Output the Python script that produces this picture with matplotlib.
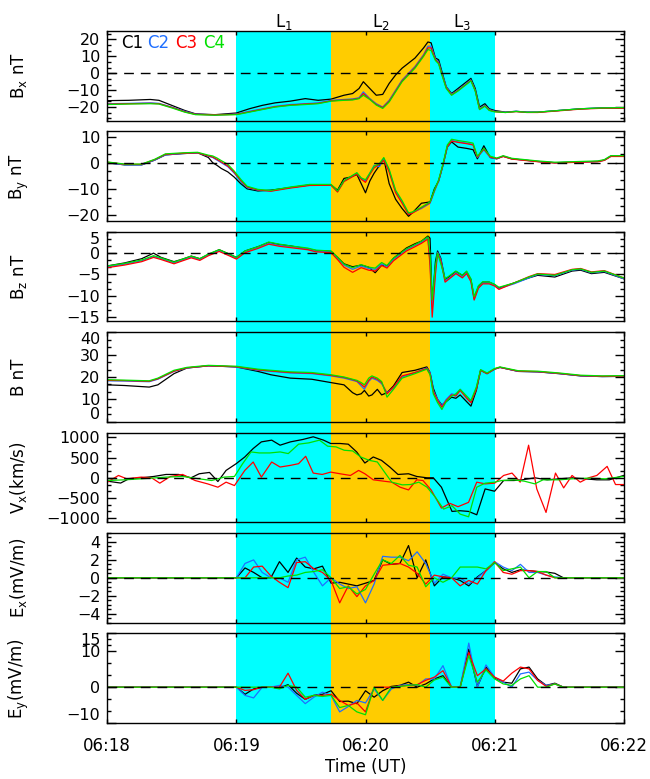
import matplotlib
matplotlib.use('Agg')
import matplotlib.pyplot as plt
import matplotlib.transforms as mtransforms
from matplotlib.patches import Rectangle
from matplotlib.ticker import AutoMinorLocator, FixedLocator

plt.rcParams['font.family'] = ['DejaVu Sans']
plt.rcParams['mathtext.default'] = 'regular'
plt.rcParams['font.size'] = 12

# Time axis, seconds after 06:18:00 UT.
time_ticks = [0, 60, 120, 180, 240]
time_labels = ['06:18', '06:19', '06:20', '06:21', '06:22']

sc_names = ['C1', 'C2', 'C3', 'C4']
sc_colors = ['black', '#1f6fff', 'red', '#00e000']

# Shaded intervals L1, L2, L3.
interval_edges = [60, 104, 150, 180]
interval_colors = ['#00ffff', '#ffcc00', '#00ffff']
interval_names = [r'L$_1$', r'L$_2$', r'L$_3$']

# Bx (nT)
bx_t = [0, 10, 20, 24, 30, 36, 41, 50, 60, 66, 72, 78, 85, 92, 98, 104, 110, 114, 117, 119,
        122, 125, 128, 131, 134, 137, 140, 143, 147, 149, 150.5, 152.5, 154, 155.5, 157.5, 160,
        163, 166, 169, 171, 173, 175.5, 177.5, 180, 185, 190, 195, 200, 210, 220, 230, 240]
bx_c1 = [-16.2, -16, -15.5, -16, -19, -22, -24, -24.5, -23.5, -21, -19, -17.5, -16.5, -15, -16,
         -15.3, -13, -12, -9, -5, -9, -13, -12.5, -6, -1, 3, 6, 9, 15, 18.5, 18, 9, 8, 1, -8, -12,
         -9, -6, -3, -9, -20, -18, -21, -22, -23, -22.5, -23, -23, -22, -21, -20.5, -20.5]
bx_c2 = [-18, -17.8, -17.5, -17.8, -20, -22.5, -24.2, -24.6, -24.2, -22.5, -21, -19.5, -18.5, -18,
         -17.5, -16, -15.5, -15.2, -14.5, -11, -15, -18, -20, -16, -10, -4, 0, 4, 11, 16, 16, 8.5,
         6.5, 0, -8, -12.5, -10, -7, -4, -10, -21, -19, -21.5, -22.5, -23, -22.5, -23, -23, -22,
         -21, -20.5, -20.5]
bx_c3 = [-18.3, -18, -17.8, -18, -20.2, -22.8, -24.3, -24.6, -24.3, -22.8, -21.3, -19.8, -18.8,
         -18.2, -17.8, -16.3, -15.8, -15.5, -14.8, -12, -15.3, -18.5, -20.3, -16.5, -10.5, -4.5,
         -0.5, 3.5, 10.5, 15, 15, 8, 6, -0.5, -8.5, -12.8, -10.3, -7.3, -4.3, -10.3, -21.3, -19.3,
         -21.8, -22.7, -23.2, -22.7, -23.2, -23.2, -22.2, -21.2, -20.7, -20.7]
bx_c4 = [-18.5, -18.2, -18, -18.2, -20.5, -23, -24.5, -24.8, -24.5, -23, -21.5, -20, -19, -18.5,
         -18, -16.5, -16, -15.8, -15, -13, -15.5, -18.8, -20.8, -17, -11, -5, -1, 3, 10, 14, 13.5,
         7.5, 5.5, -1, -9, -13, -10.5, -7.5, -4.5, -10.5, -21.5, -19.5, -22, -22.8, -23.2, -22.6,
         -23.1, -23, -22, -21, -20.5, -20.3]

# By (nT)
by_t = [0, 8, 16, 22, 27, 35, 42, 47, 49, 51, 53, 56, 59, 62, 65, 70, 76, 85, 94, 104, 107, 110,
        113, 116, 118, 120, 122, 124, 126.5, 128.5, 131, 134, 137, 140, 142, 146, 150, 152, 154,
        156, 158, 160, 163, 167, 170, 172, 175, 178, 181, 184, 188, 200, 208, 220, 228, 231, 234,
        240]
by_c1 = [0, -0.8, -0.8, 1, 3, 3.5, 3.8, 2, 0, -1, -2.2, -3.5, -5.5, -8, -10, -10.8, -10.5, -9.5,
         -8.5, -8.5, -10.5, -6, -5.5, -4.5, -8, -11.5, -7, -4, -1, 1.5, -8, -14, -17.5, -20.5, -19,
         -15.5, -15, -10, -7, -1, 6, 8, 6, 5.5, 5, 1.5, 6.5, 2, 1.5, 2.5, 1.5, 0.5, 0, 0.3, 0.5, 1,
         2.5, 2.5]
by_c2 = [0, -0.8, -0.8, 1, 3, 3.5, 3.8, 2.5, 2, 1, 0, -1.5, -4, -7, -9.5, -10.5, -10.8, -9.5, -8.5,
         -8.5, -11, -7, -5.5, -4, -6, -7, -4, -1, -1.5, 1.5, -3, -11, -15, -19.5, -19, -17.5, -15.5,
         -11, -7, -1, 6, 8.5, 8, 7.5, 7, 2, 5, 2, 1.5, 2.5, 1.5, 0.5, 0, 0.3, 0.5, 1, 2.5, 2.5]
by_c3 = [0.2, -0.6, -0.6, 1.2, 3.2, 3.6, 3.8, 2.6, 2.2, 1.3, 0.3, -1.2, -3.7, -6.8, -9.3, -10.4,
         -10.9, -9.7, -8.7, -8.6, -11.2, -7.2, -5.8, -4.3, -6.3, -7.5, -4.5, -2, -0.5, 1, -3.5,
         -11.5, -15.5, -19.8, -19.2, -17.2, -15.3, -10.8, -6.8, -0.8, 6.2, 8.3, 7.8, 7.3, 6.8, 2.2,
         5.2, 2.2, 1.6, 2.4, 1.4, 0.4, -0.1, 0.2, 0.4, 0.9, 2.4, 2.4]
by_c4 = [0.3, -0.5, -0.5, 1.3, 3.4, 3.8, 4, 2.9, 2.6, 1.8, 0.8, -0.6, -3.2, -6.3, -9, -10.2, -10.6,
         -9.3, -8.3, -8.3, -10.8, -6.8, -5.3, -3.8, -5.8, -6.5, -4, -1.3, -0.3, 2, -2.5, -10.5,
         -14.5, -19.2, -18.8, -17, -15, -10.5, -6.5, -0.5, 6.8, 9, 8.5, 8, 7.5, 2.5, 5.5, 2.5, 1.8,
         2.7, 1.7, 0.7, 0.2, 0.5, 0.7, 1.2, 2.7, 2.7]

# Bz (nT)
bz_t = [0, 8, 16, 21.5, 25, 31, 35, 39, 43, 47, 52, 57, 60, 64, 70, 75, 80, 85, 93, 97, 104, 107,
        110, 114, 118, 121.5, 124.5, 127.5, 130, 133, 139, 143, 146, 149, 150, 151, 152.5, 153.5,
        155, 157, 159, 162, 165, 167, 169, 170.5, 172.5, 174.5, 177.5, 180, 182, 189, 196, 200,
        208, 216, 220, 225, 231, 240]
bz_c1 = [-3.0, -2.3, -1.3, 0, -1.0, -2.0, -1.4, -0.7, -1.3, -0.3, 0.8, -0.3, -1.0, 0.5, 1.5, 2.5,
         2.0, 1.7, 1.0, 0.6, 0.4, -1.0, -2.5, -3.2, -2.8, -3.3, -4.6, -2.8, -3.0, -1.2, 1.2, 2.2,
         2.8, 4.0, 3.5, -12, -2, 0.5, -1.2, -6.2, -5.5, -4.3, -5.2, -4.4, -6.2, -10.5, -7.8, -6.8,
         -6.8, -7.4, -8.2, -7.0, -5.8, -5.2, -5.6, -4.2, -4.0, -4.8, -4.5, -6.0]
bz_c2 = [-3.2, -2.6, -1.8, -0.8, -1.3, -2.3, -1.6, -0.9, -1.5, -0.4, 0.6, -0.5, -1.2, 0.3, 1.3,
         2.3, 1.8, 1.5, 1.0, 0.5, 0.3, -1.2, -2.8, -3.8, -3.0, -3.6, -3.8, -2.5, -3.2, -1.5, 0.8,
         1.8, 2.5, 3.6, -2, -13, -4, 0.2, -1.5, -6.5, -5.8, -4.6, -5.6, -4.6, -6.5, -10.8, -8, -7,
         -7, -7.5, -8.3, -7.2, -5.8, -5, -5.3, -4, -3.8, -4.6, -4.3, -6]
bz_c3 = [-3.4, -2.8, -2.0, -1.0, -1.5, -2.5, -1.8, -1.1, -1.7, -0.6, 0.4, -0.7, -1.4, 0.1, 1.1,
         2.1, 1.6, 1.3, 0.8, 0.3, 0.1, -1.5, -3.3, -4.5, -3.4, -4.0, -4.2, -2.9, -3.5, -1.8, 0.5,
         1.5, 2.3, 3.3, -3, -15, -5, 0, -1.8, -6.8, -6.0, -4.8, -5.8, -4.8, -6.7, -11, -8.2, -7.2,
         -7.2, -7.7, -8.5, -7.0, -5.5, -4.8, -5.0, -3.8, -3.6, -4.4, -4.1, -5.8]
bz_c4 = [-3.0, -2.4, -1.6, -0.6, -1.1, -2.1, -1.4, -0.7, -1.3, -0.2, 0.8, -0.3, -1.0, 0.5, 1.5,
         2.6, 2.1, 1.7, 1.2, 0.7, 0.5, -1.0, -2.6, -3.4, -2.7, -3.3, -3.5, -2.2, -2.9, -1.2, 1.0,
         2.0, 2.8, 3.8, 0, -11, -3, 0, -2.5, -6.0, -5.3, -4.2, -5.2, -4.2, -6.0, -10.2, -7.6, -6.7,
         -6.8, -7.3, -8.0, -7.0, -5.6, -4.9, -5.2, -3.9, -3.7, -4.5, -4.2, -5.8]

# |B| (nT)
b_t = [0, 8, 19.5, 23.5, 31, 37, 47, 60, 70, 76, 85, 95, 104, 110, 114, 116, 118, 119.5, 121.5,
       123, 125.5, 127.5, 130, 133, 137, 143, 148.5, 150, 151.5, 153.5, 155.5, 157.5, 160, 162,
       164, 167, 169, 171.5, 173.5, 176.5, 180, 182.5, 191, 200, 210, 220, 230, 240]
b_c1 = [16.5, 16.2, 15.5, 16.5, 21.5, 24, 25, 24.5, 22.5, 21, 19.5, 19, 17.5, 16.5, 13, 12, 12.5,
        14, 11.5, 12, 14.5, 12, 13, 16, 22, 23, 24.5, 22, 15, 10, 7.5, 9, 11, 10.5, 12, 9, 7, 14,
        23, 21.5, 23.5, 24.3, 22.5, 22.3, 21.5, 20.5, 20.2, 20.3]
b_c2 = [18.3, 18.2, 17.9, 19, 22.5, 24, 25, 24.5, 23, 22.5, 21.8, 21.5, 20.5, 19.5, 18.5, 18, 16,
        14.5, 18, 19.5, 18.5, 17, 13, 15, 20, 22, 24, 22, 14, 10, 7, 10, 12.5, 12, 14.5, 11, 9, 15,
        23, 21.5, 23.5, 24.3, 22.5, 22.3, 21.5, 20.5, 20.2, 20.3]
b_c3 = [18.5, 18.4, 18.1, 19.2, 22.6, 24.1, 25, 24.6, 23.2, 22.7, 22, 21.7, 20.7, 19.8, 18.8, 18.2,
        16.8, 15.5, 18.5, 20, 19, 17.5, 12.5, 15.5, 20.5, 22, 23.8, 21.5, 13.5, 9.5, 6.5, 9.5, 12,
        11.5, 14, 10.5, 8.5, 14.5, 23, 21.5, 23.6, 24.3, 22.6, 22.4, 21.6, 20.6, 20.3, 20.4]
b_c4 = [18.8, 18.6, 18.3, 19.5, 23, 24.3, 25.2, 24.8, 23.5, 23, 22.3, 22, 21, 20, 19, 18.5, 17.5,
        16.5, 19.5, 20.5, 19.5, 18, 11, 14.5, 19.5, 21.5, 23.5, 21, 12.5, 8.5, 5.5, 9, 11.5, 12.5,
        14.5, 11.5, 9.5, 15.5, 23.3, 21.8, 23.8, 24.5, 22.8, 22.6, 21.8, 20.8, 20.5, 20.6]

# Vx (km/s), no C2 data
vx_t_c1 = [0, 6.2, 10, 15.8, 21.6, 27.3, 33.1, 38.9, 42.7, 47.5, 51.4, 55.2, 59.9, 63.9, 67.8,
           71.6, 76.4, 80.3, 85.1, 90.9, 95.7, 100.5, 103.8, 108.2, 112, 115.9, 119.7, 123.6,
           127.4, 131.3, 135.1, 140, 143.8, 148.6, 151.5, 155.3, 160.2, 164, 167.9, 171.7, 175.6,
           180, 184.2, 189, 192.9, 198.7, 204.4, 210.2, 216, 221.8, 227.5, 233.3, 240]
vx_c1 = [-83, -130, -25, 0, 33, 83, 83, 0, 100, 133, -92, 183, 350, 516, 725, 890, 933, 808, 890,
         950, 1016, 933, 850, 850, 833, 641, 366, 516, 433, 267, 83, 100, 33, 0, 0, -233, -833,
         -816, -833, -916, -275, -333, -67, -67, -50, 0, -50, -25, 0, -25, -50, -50, 58]
vx_t_c3 = [0, 5.2, 9, 15.8, 20.6, 24.4, 29.3, 35, 40.8, 46.6, 51.4, 55.2, 59.1, 63.9, 67.8, 71.6,
           76.4, 80.3, 85.1, 88.9, 92.2, 95.7, 99.9, 103.8, 108.2, 113, 116.8, 119.7, 123.6, 128.4,
           132.2, 136.1, 140, 143.8, 146.7, 150.5, 155.3, 159.2, 163, 167.9, 171.7, 175.6, 180,
           184.2, 188.1, 191.9, 195.8, 199.6, 203.9, 208.3, 212.1, 216, 219.8, 223.7, 227.5, 232.3,
           236.2, 240]
vx_c3 = [-108, 58, -25, 17, 0, -133, 33, 83, -67, -150, -233, -108, -192, 183, 391, 17, 391, 267,
         308, 350, 533, 117, 83, 141, 100, 58, 183, 100, -50, -83, -108, -233, -300, -50, -67,
         -300, -750, -633, -716, -608, -108, -150, -133, 58, 117, -108, 808, -275, -858, 117, -250,
         58, -108, 0, 58, 283, -167, -167]
vx_t_c4 = [0, 8.1, 15.8, 27.3, 35, 42.7, 48.5, 54.3, 59.1, 62.9, 66.8, 70.6, 75.5, 80.3, 84.1,
           88.9, 93.7, 98.6, 102.4, 106.3, 110.1, 114, 117.8, 121.7, 125.5, 129.4, 132.2, 137.1,
           140.9, 144.8, 148.6, 152.5, 156.3, 160.2, 164, 167.9, 171.7, 175.6, 180, 183.3, 189,
           193.8, 198.7, 202.5, 210.2, 216, 223.7, 231.4, 240]
vx_c4 = [-67, -50, -25, 17, 33, -25, -67, 17, 33, 350, 641, 616, 616, 641, 600, 833, 866, 933, 783,
         766, 683, 666, 516, 433, 392, 100, -108, -175, -167, -108, -233, -483, -775, -692, -900,
         -966, -233, -133, -108, -67, -50, -83, -150, -50, -50, -25, -8, -25, 33]

# Ex and Ey (mV/m), 4 s spin resolution
e_t = [0, 60, 64, 68, 72, 76, 80, 84, 88, 92, 96, 100, 104, 108, 112, 116, 120, 124, 128, 132,
       136, 140, 144, 148, 152, 156, 160, 164, 168, 172, 176, 180, 184, 188, 192, 196, 200, 204,
       208, 212, 240]
ex_c1 = [0, 0, 1.1, 0.6, 0, 0, 1.8, 0.6, 2.2, 1.2, 1.0, 1.3, -0.6, -0.5, -0.7, -0.9, -0.6, -0.3,
         2.0, 1.5, 1.6, 3.6, 0, 2.0, -0.9, 0.1, 0, -0.3, -0.9, 0.1, 0.8, 1.7, 1.0, 0.6, 0.9, 0.8,
         0.7, 0.65, 0.5, 0, 0]
ex_c2 = [0, 0, 1.6, 2.0, 0.6, 0, 0, -0.5, 2.0, 2.3, 0.6, -0.9, 0, -0.7, -1.2, -1.0, -2.8, -0.7,
         2.4, 2.3, 2.3, 1.9, 2.9, 1.6, -0.6, 0.4, 0, 0, -0.7, 0, 0.8, 1.8, 1.2, 0.8, 1.5, 0.6, 0.6,
         0.3, 0.1, 0, 0]
ex_c3 = [0, 0, 0, 1.2, 1.3, 0.2, -0.5, -1.1, 1.7, 1.8, 1.0, 0.6, -0.3, -2.8, -0.9, -2.1, -0.9,
         -0.3, 1.4, 1.5, 1.6, 1.2, 0.5, -0.7, 0.3, 0.1, 0, -0.9, -0.3, -0.7, 0.8, 1.8, 0.6, 0.4,
         0.8, 0.8, 0.7, 0.3, 0, 0, 0]
ex_c4 = [0, 0, 0, 0, 0, 0, 0, 0.2, 0.3, 0.6, 0.7, 0.9, 0, -1.2, -1.0, -1.8, -1.3, 0.4, 2.0, 1.6,
         2.5, 1.4, 1.2, -1.0, 0, -0.5, 0, 1.2, 1.2, 1.2, 1.0, 1.7, 0.8, 1.0, 1.2, 0, 0.7, 0.7, 0,
         0, 0]
ey_c1 = [0, 0, -2.0, -0.5, 0, 0, -0.2, 0.7, -1.7, -3.4, -2.3, -2.0, -1.0, -4.0, -3.9, -4.6, -1.0,
         -2.8, -1.0, 0.2, 0.5, 1.4, 0, 0.9, 2.3, 3.2, 0, 0, 10.6, 0.2, 5.6, 2.6, 1.4, 1.1, 5.1, 5.6,
         2.3, 0.5, 1.1, 0, 0]
ey_c2 = [0, 0, -2.3, -3.0, 0, 0, 0.5, 0, -2.3, -4.6, -2.8, -1.4, -2.3, -6.9, -5.4, -3.7, -4.4,
         -0.5, -3.7, -0.5, 0.5, 0.7, 0.5, 2.3, 2.3, 6.0, 0, 0, 12.3, 0, 6.2, 2.8, 1.4, 0, 3.7, 4.2,
         1.9, 0.5, 0.9, 0, 0]
ey_c3 = [0, 0, -0.9, -0.7, 0, 0, 0, 3.9, -0.9, -3.4, -2.3, -2.3, -2.0, -3.7, -5.1, -4.4, -6.9, 0,
         0, 0, 0.3, 0.5, 0.7, 1.9, 2.8, 4.6, 0, 0, 9.7, 3.2, 5.1, 2.8, 1.7, 3.9, 5.6, 5.1, 1.9, 0.2,
         0.9, 0, 0]
ey_c4 = [0, 0, 0, 0, 0, 0, -0.5, 0.5, 0, -2.8, -2.3, -2.6, -2.3, -5.7, -5.1, -6.9, -7.7, 0, -3.7,
         0, 0.2, 0.5, 0.7, 0, 2.0, 2.8, 0, 0, 8.8, 1.4, 4.8, 2.3, 0.9, 0.5, 2.3, 3.2, 0, 0, 0.9, 0,
         0]

# Panel table: label, series (t, values, colour), limits, major ticks, minor ticks, zero line
panels = [
    (r'B$_x$ nT', [(bx_t, v, c) for v, c in zip([bx_c1, bx_c2, bx_c3, bx_c4], sc_colors)],
     (-28, 25), [-20, -10, 0, 10, 20], AutoMinorLocator(3), True),
    (r'B$_y$ nT', [(by_t, v, c) for v, c in zip([by_c1, by_c2, by_c3, by_c4], sc_colors)],
     (-22.3, 12), [-20, -10, 0, 10], AutoMinorLocator(3), True),
    (r'B$_z$ nT', [(bz_t, v, c) for v, c in zip([bz_c1, bz_c2, bz_c3, bz_c4], sc_colors)],
     (-16, 5), [-15, -10, -5, 0, 5], AutoMinorLocator(3), True),
    ('B nT', [(b_t, v, c) for v, c in zip([b_c1, b_c2, b_c3, b_c4], sc_colors)],
     (0, 40), [0, 10, 20, 30, 40], AutoMinorLocator(3), False),
    (r'V$_x$(km/s)', [(vx_t_c1, vx_c1, sc_colors[0]), (vx_t_c3, vx_c3, sc_colors[2]),
                      (vx_t_c4, vx_c4, sc_colors[3])],
     (-1100, 1120), [-1000, -500, 0, 500, 1000], AutoMinorLocator(3), True),
    (r'E$_x$(mV/m)', [(e_t, v, c) for v, c in zip([ex_c1, ex_c2, ex_c3, ex_c4], sc_colors)],
     (-5, 5), [-4, -2, 0, 2, 4], AutoMinorLocator(4), True),
    (r'E$_y$(mV/m)', [(e_t, v, c) for v, c in zip([ey_c1, ey_c2, ey_c3, ey_c4], sc_colors)],
     (-10, 15), [-10, 0, 10, 15],
     FixedLocator([-6.667, -3.333, 3.333, 6.667, 11.667, 13.333]), True),
]

W, H = 650, 779
fig = plt.figure(figsize=(W / 100, H / 100), dpi=100)

left, width = 107.3 / W, 516.4 / W
top0, step, ph = 31.0, 100.4, 89.6
axes = []
for i, (label, series, ylim, yticks, minor, zero) in enumerate(panels):
    top = top0 + i * step
    ax = fig.add_axes([left, 1 - (top + ph) / H, width, ph / H])
    ax.set_facecolor('none')
    for t, v, c in series:
        ax.plot(t, v, color=c, lw=0.9)
    if zero:
        ax.axhline(0, color='black', lw=1.0, ls=(0, (7, 5)), zorder=3)
    ax.set_xlim(0, 240)
    ax.set_ylim(*ylim)
    ax.set_yticks(yticks)
    ax.yaxis.set_minor_locator(minor)
    ax.set_xticks(time_ticks)
    ax.tick_params(axis='y', which='major', direction='in', left=True, right=True,
                   length=6.5, width=1, pad=5, labelsize=11.5)
    ax.tick_params(axis='y', which='minor', direction='in', left=True, right=True,
                   length=3, width=1)
    ax.tick_params(axis='x', which='major', direction='in', top=True, bottom=True,
                   length=3, width=1, pad=10, labelsize=12)
    if i < len(panels) - 1:
        ax.set_xticklabels([])
    else:
        ax.set_xticklabels(time_labels)
    for s in ax.spines.values():
        s.set_linewidth(1)
    ax.set_ylabel(label, fontsize=12, va='center')
    ax.yaxis.set_label_coords(-0.171, 0.5)
    # keep the edge tick labels inside the panel, as in the original
    ticks = ax.yaxis.get_major_ticks()
    for tk, val in zip(ticks, yticks):
        if val == ylim[0]:
            tk.label1.set_va('bottom')
        elif val == ylim[1]:
            tk.label1.set_va('top')
    axes.append(ax)

# shaded intervals spanning all panels
y_lo = axes[-1].get_position().y0
y_hi = axes[0].get_position().y1
trans = mtransforms.blended_transform_factory(axes[0].transData, fig.transFigure)
for a, b, c, name in zip(interval_edges[:-1], interval_edges[1:], interval_colors, interval_names):
    fig.add_artist(Rectangle((a, y_lo), b - a, y_hi - y_lo, transform=trans,
                             facecolor=c, edgecolor='none', zorder=-1))
    fig.text((a + b) / 2, 1 - 21.7 / H, name, transform=trans, ha='center', va='center',
             fontsize=12)

# spacecraft legend inside the top panel
legend_x = [0.0265, 0.0769, 0.131, 0.185]
for x, name, c in zip(legend_x, sc_names, sc_colors):
    axes[0].text(x, 0.865, name, color=c, transform=axes[0].transAxes,
                 ha='left', va='center', fontsize=12)

fig.text(left + width / 2, 1 - 767 / H, 'Time (UT)', ha='center', va='center', fontsize=12)

fig.savefig('out.png', dpi=100)
